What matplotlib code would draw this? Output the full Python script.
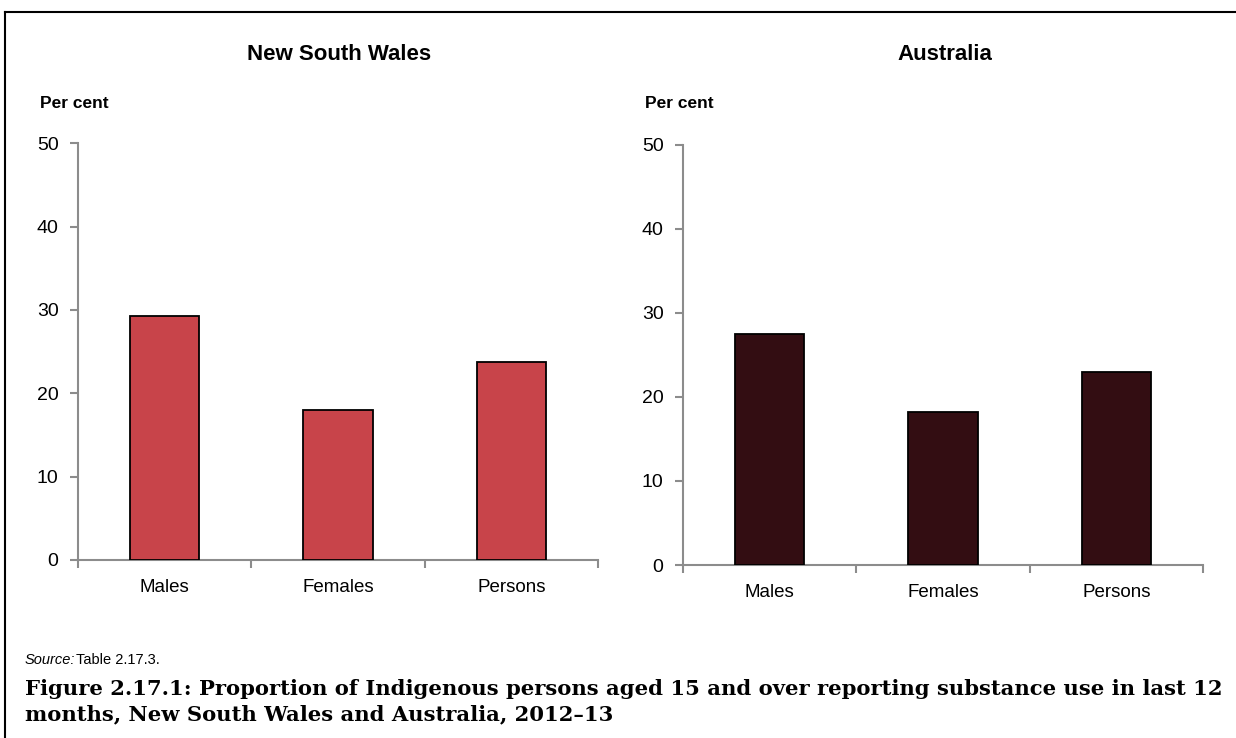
import matplotlib.pyplot as plt
from matplotlib.lines import Line2D

categories = ['Males', 'Females', 'Persons']
nsw_values = [29.3, 18.0, 23.7]
aus_values = [27.5, 18.2, 22.9]
panel_titles = ['New South Wales', 'Australia']
y_ticks = [0, 10, 20, 30, 40, 50]

plt.rcParams['font.family'] = ['Liberation Sans', 'DejaVu Sans']

fig = plt.figure(figsize=(12.36, 7.38), dpi=100)

axis_grey = '#8c8c8c'


def draw_panel(rect, values, colour, title, title_x):
    ax = fig.add_axes(rect)
    x = range(len(categories))
    ax.bar(x, values, width=0.4, color=colour, edgecolor='black', linewidth=1.3, zorder=3)
    ax.set_xlim(-0.5, len(categories) - 0.5)
    ax.set_ylim(0, 50)
    ax.set_yticks(y_ticks)
    ax.set_yticklabels([str(t) for t in y_ticks], fontsize=14)
    ax.set_xticks(x)
    ax.set_xticklabels(categories, fontsize=13.5)
    # category boundary ticks on the x axis
    ax.set_xticks([i - 0.5 for i in range(len(categories) + 1)], minor=True)
    ax.tick_params(axis='x', which='major', length=0, pad=14)
    ax.tick_params(axis='x', which='minor', length=6, color=axis_grey, width=1.5)
    ax.tick_params(axis='y', length=6, color=axis_grey, width=1.5, pad=8)
    for side in ['top', 'right']:
        ax.spines[side].set_visible(False)
    for side in ['left', 'bottom']:
        ax.spines[side].set_color(axis_grey)
        ax.spines[side].set_linewidth(1.5)
    fig.text(title_x, 1 - 54 / 738, title, ha='center', va='center',
             fontsize=16, fontweight='bold')
    fig.text(rect[0] - 38 / 1236, 1 - 104 / 738, 'Per cent', ha='left', va='center',
             fontsize=12.5, fontweight='bold')
    return ax


draw_panel([78 / 1236, 178 / 738, 520 / 1236, 416.7 / 738], nsw_values, '#c8444a',
           panel_titles[0], 339 / 1236)
draw_panel([683 / 1236, 173 / 738, 520 / 1236, 420.5 / 738], aus_values, '#330d12',
           panel_titles[1], 945 / 1236)

# frame lines round the chart area
fig.add_artist(Line2D([5 / 1236, 5 / 1236], [0, 1 - 12 / 738], color='black', lw=1.5))
fig.add_artist(Line2D([5 / 1236, 1], [1 - 12 / 738, 1 - 12 / 738], color='black', lw=1.5))

fig.text(25 / 1236, 1 - 660 / 738, 'Source:', style='italic', fontsize=10.5, va='center')
fig.text(76 / 1236, 1 - 660 / 738, 'Table 2.17.3.', fontsize=10.5, va='center')

fig.text(25 / 1236, 1 - 689 / 738,
         'Figure 2.17.1: Proportion of Indigenous persons aged 15 and over reporting substance use in last 12',
         family='DejaVu Serif', fontweight='bold', fontsize=15.2, va='center')
fig.text(25 / 1236, 1 - 714 / 738,
         'months, New South Wales and Australia, 2012\u201313',
         family='DejaVu Serif', fontweight='bold', fontsize=15.2, va='center')

fig.savefig('out.png', dpi=100)
